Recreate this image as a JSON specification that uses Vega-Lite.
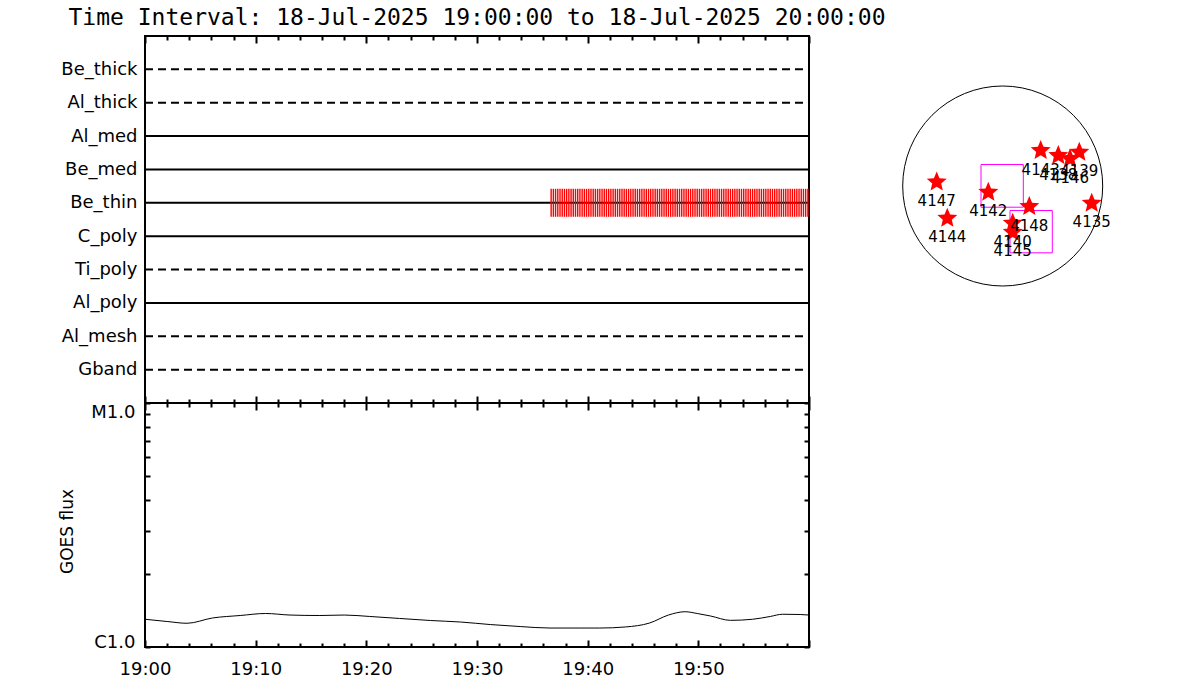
{
  "$schema": "https://vega.github.io/schema/vega-lite/v6.json",
  "background": "white",
  "padding": {"left": 56, "top": 6, "right": 5, "bottom": 5},
  "config": {
    "view": {"stroke": "black", "strokeWidth": 2},
    "font": "DejaVu Sans",
    "axis": {"labelColor": "black", "tickColor": "black", "domainColor": "black", "titleColor": "black", "labelFont": "DejaVu Sans", "titleFont": "DejaVu Sans", "titleFontWeight": "normal", "grid": false, "domain": false, "labelFontSize": 18, "tickWidth": 2}
  },
  "datasets": {
    "regions": [
      {"noaa": "4147", "x": -0.66, "y": 0.04},
      {"noaa": "4144", "x": -0.554, "y": -0.322},
      {"noaa": "4142", "x": -0.144, "y": -0.062},
      {"noaa": "4148", "x": 0.266, "y": -0.205},
      {"noaa": "4140", "x": 0.10, "y": -0.372},
      {"noaa": "4145", "x": 0.10, "y": -0.462},
      {"noaa": "4135", "x": 0.89, "y": -0.172},
      {"noaa": "4143", "x": 0.38, "y": 0.355},
      {"noaa": "4138", "x": 0.556, "y": 0.305},
      {"noaa": "4146", "x": 0.673, "y": 0.272},
      {"noaa": "4139", "x": 0.766, "y": 0.338}
    ],
    "goes": [
      {"t": 0, "flux": 1.299e-6}, {"t": 2, "flux": 1.272e-6}, {"t": 3.8, "flux": 1.251e-6},
      {"t": 6.1, "flux": 1.315e-6}, {"t": 8.6, "flux": 1.346e-6}, {"t": 10.9, "flux": 1.372e-6}, {"t": 13.1, "flux": 1.352e-6},
      {"t": 15.8, "flux": 1.346e-6}, {"t": 18, "flux": 1.352e-6}, {"t": 20.3, "flux": 1.334e-6}, {"t": 23, "flux": 1.309e-6},
      {"t": 25.8, "flux": 1.284e-6}, {"t": 28.5, "flux": 1.266e-6}, {"t": 31.2, "flux": 1.236e-6}, {"t": 33.9, "flux": 1.213e-6},
      {"t": 36.6, "flux": 1.196e-6}, {"t": 39.3, "flux": 1.196e-6}, {"t": 41.1, "flux": 1.196e-6}, {"t": 43.4, "flux": 1.208e-6},
      {"t": 45.6, "flux": 1.254e-6}, {"t": 47.3, "flux": 1.352e-6}, {"t": 48.8, "flux": 1.395e-6}, {"t": 49.9, "flux": 1.372e-6},
      {"t": 51.1, "flux": 1.340e-6}, {"t": 52.9, "flux": 1.286e-6}, {"t": 54.9, "flux": 1.299e-6}, {"t": 56.5, "flux": 1.334e-6},
      {"t": 57.6, "flux": 1.362e-6}, {"t": 59.2, "flux": 1.359e-6}, {"t": 60, "flux": 1.352e-6}
    ]
  },
  "spacing": 0,
  "hconcat": [
    {
      "spacing": 0,
      "bounds": "flush",
      "vconcat": [
        {
          "width": 664,
          "height": 367,
          "title": {"text": "Time Interval: 18-Jul-2025 19:00:00 to 18-Jul-2025 20:00:00", "font": "DejaVu Sans Mono", "fontSize": 23, "fontWeight": "normal", "color": "black", "anchor": "middle", "baseline": "alphabetic", "offset": -13},
          "layer": [
            {
              "data": {"values": [
                {"filter": "Be_thick", "style": "dashed", "start": 0, "end": 60},
                {"filter": "Al_thick", "style": "dashed", "start": 0, "end": 60},
                {"filter": "Al_med", "style": "solid", "start": 0, "end": 60},
                {"filter": "Be_med", "style": "solid", "start": 0, "end": 60},
                {"filter": "Be_thin", "style": "solid", "start": 0, "end": 60},
                {"filter": "C_poly", "style": "solid", "start": 0, "end": 60},
                {"filter": "Ti_poly", "style": "dashed", "start": 0, "end": 60},
                {"filter": "Al_poly", "style": "solid", "start": 0, "end": 60},
                {"filter": "Al_mesh", "style": "dashed", "start": 0, "end": 60},
                {"filter": "Gband", "style": "dashed", "start": 0, "end": 60}
              ]},
              "mark": {"type": "rule", "strokeWidth": 2, "color": "black"},
              "encoding": {
                "x": {"field": "start", "type": "quantitative", "scale": {"domain": [0, 60], "nice": false, "zero": false},
                  "axis": {"orient": "top", "values": [0,2,4,6,8,10,12,14,16,18,20,22,24,26,28,30,32,34,36,38,40,42,44,46,48,50,52,54,56,58,60], "labels": false, "title": null,
                    "tickSize": {"condition": {"test": "datum.value % 10 === 0", "value": -7}, "value": -4}}},
                "x2": {"field": "end"},
                "y": {"field": "filter", "type": "nominal", "sort": ["Be_thick","Al_thick","Al_med","Be_med","Be_thin","C_poly","Ti_poly","Al_poly","Al_mesh","Gband"],
                  "scale": {"type": "point", "padding": 1},
                  "axis": {"orient": "left", "ticks": false, "labelPadding": 8, "title": null}},
                "strokeDash": {"field": "style", "type": "nominal", "scale": {"domain": ["solid", "dashed"], "range": [[1, 0], [8, 5]]}, "legend": null}
              }
            },
            {
              "data": {"values": [
                {"t":36.7},{"t":36.9},{"t":37.1},{"t":37.3},{"t":37.5},{"t":37.7},{"t":37.9},{"t":38.1},{"t":38.3},{"t":38.5},{"t":38.7},{"t":38.9},
                {"t":39.1},{"t":39.3},{"t":39.5},{"t":39.7},{"t":39.9},{"t":40.1},{"t":40.3},{"t":40.5},{"t":40.7},{"t":40.9},
                {"t":41.1},{"t":41.3},{"t":41.5},{"t":41.7},{"t":41.9},{"t":42.1},{"t":42.3},{"t":42.5},{"t":42.7},{"t":42.9},
                {"t":43.1},{"t":43.3},{"t":43.5},{"t":43.7},{"t":43.9},{"t":44.1},{"t":44.3},{"t":44.5},{"t":44.7},{"t":44.9},
                {"t":45.1},{"t":45.3},{"t":45.5},{"t":45.7},{"t":45.9},{"t":46.1},{"t":46.3},{"t":46.5},{"t":46.7},{"t":46.9},
                {"t":47.1},{"t":47.3},{"t":47.5},{"t":47.7},{"t":47.9},{"t":48.1},{"t":48.3},{"t":48.5},{"t":48.7},{"t":48.9},
                {"t":49.1},{"t":49.3},{"t":49.5},{"t":49.7},{"t":49.9},{"t":50.1},{"t":50.3},{"t":50.5},{"t":50.7},{"t":50.9},
                {"t":51.1},{"t":51.3},{"t":51.5},{"t":51.7},{"t":51.9},{"t":52.1},{"t":52.3},{"t":52.5},{"t":52.7},{"t":52.9},
                {"t":53.1},{"t":53.3},{"t":53.5},{"t":53.7},{"t":53.9},{"t":54.1},{"t":54.3},{"t":54.5},{"t":54.7},{"t":54.9},
                {"t":55.1},{"t":55.3},{"t":55.5},{"t":55.7},{"t":55.9},{"t":56.1},{"t":56.3},{"t":56.5},{"t":56.7},{"t":56.9},
                {"t":57.1},{"t":57.3},{"t":57.5},{"t":57.7},{"t":57.9},{"t":58.1},{"t":58.3},{"t":58.5},{"t":58.7},{"t":58.9},
                {"t":59.1},{"t":59.3},{"t":59.5},{"t":59.7},{"t":59.9}
              ]},
              "mark": {"type": "tick", "color": "red", "thickness": 1.4, "size": 28, "opacity": 1},
              "encoding": {
                "x": {"field": "t", "type": "quantitative", "scale": {"domain": [0, 60], "nice": false, "zero": false},
                  "axis": {"orient": "bottom", "values": [0,2,4,6,8,10,12,14,16,18,20,22,24,26,28,30,32,34,36,38,40,42,44,46,48,50,52,54,56,58,60], "labels": false, "title": null,
                    "tickSize": {"condition": {"test": "datum.value % 10 === 0", "value": -7}, "value": -4}}},
                "y": {"datum": "Be_thin", "type": "nominal"}
              }
            }
          ],
          "resolve": {"axis": {"x": "independent"}}
        },
        {
          "width": 664,
          "height": 244,
          "data": {"name": "goes"},
          "layer": [
            {
              "mark": {"type": "line", "color": "black", "strokeWidth": 1, "interpolate": "monotone"},
              "encoding": {
                "x": {"field": "t", "type": "quantitative", "scale": {"domain": [0, 60], "nice": false, "zero": false},
                  "axis": {"orient": "bottom", "values": [0,2,4,6,8,10,12,14,16,18,20,22,24,26,28,30,32,34,36,38,40,42,44,46,48,50,52,54,56,58,60],
                    "labelExpr": "datum.value % 10 === 0 && datum.value < 60 ? '19:' + (datum.value === 0 ? '00' : datum.value) : ''",
                    "labelFlush": false, "title": null, "labelPadding": 20,
                    "tickSize": {"condition": {"test": "datum.value % 10 === 0", "value": -7}, "value": -4}}},
                "y": {"field": "flux", "type": "quantitative", "scale": {"type": "log", "domain": [1e-6, 1e-5], "nice": false},
                  "axis": {"orient": "left", "values": [1e-6,2e-6,3e-6,4e-6,5e-6,6e-6,7e-6,8e-6,9e-6,1e-5],
                    "labelExpr": "datum.value < 1.5e-6 ? 'C1.0' : (datum.value > 9.5e-6 ? 'M1.0' : '')",
                    "labelFlush": false,
                    "labelBaseline": {"condition": {"test": "datum.value < 1.5e-6", "value": "alphabetic"}, "value": "top"},
                    "tickSize": -5, "labelPadding": 15,
                    "title": "GOES flux", "titleFontSize": 17, "titleX": -78, "titleY": 128, "titleAngle": -90, "titleAlign": "center", "titleBaseline": "middle"}}
              }
            },
            {
              "mark": {"type": "line", "color": "black", "strokeWidth": 1, "interpolate": "monotone", "opacity": 0},
              "encoding": {
                "x": {"field": "t", "type": "quantitative", "scale": {"domain": [0, 60], "nice": false, "zero": false},
                  "axis": {"orient": "top", "values": [0,2,4,6,8,10,12,14,16,18,20,22,24,26,28,30,32,34,36,38,40,42,44,46,48,50,52,54,56,58,60], "labels": false, "title": null,
                    "tickSize": {"condition": {"test": "datum.value % 10 === 0", "value": -7}, "value": -4}}},
                "y": {"field": "flux", "type": "quantitative", "scale": {"type": "log", "domain": [1e-6, 1e-5], "nice": false},
                  "axis": {"orient": "right", "values": [1e-6,2e-6,3e-6,4e-6,5e-6,6e-6,7e-6,8e-6,9e-6,1e-5], "labels": false, "title": null, "tickSize": -5}}
              }
            }
          ],
          "resolve": {"axis": {"x": "independent", "y": "independent"}}
        }
      ]
    },
    {
      "width": 240,
      "height": 300,
      "view": {"stroke": null},
      "layer": [
        {
          "data": {"values": [{"x": 0, "y": 0}]},
          "mark": {"type": "point", "shape": "circle", "size": 40000, "filled": false, "color": "black", "strokeWidth": 1, "opacity": 1},
          "encoding": {
            "x": {"field": "x", "type": "quantitative", "scale": {"domain": [-1.157, 1.243], "nice": false, "zero": false}, "axis": null},
            "y": {"field": "y", "type": "quantitative", "scale": {"domain": [-1.5, 1.5], "nice": false, "zero": false}, "axis": null}
          }
        },
        {
          "data": {"values": [
            {"x1": -0.217, "x2": 0.206, "y1": 0.215, "y2": -0.212},
            {"x1": 0.073, "x2": 0.496, "y1": -0.245, "y2": -0.668}
          ]},
          "mark": {"type": "rect", "filled": false, "color": "#ff00ff", "strokeWidth": 1},
          "encoding": {
            "x": {"field": "x1", "type": "quantitative"},
            "x2": {"field": "x2"},
            "y": {"field": "y1", "type": "quantitative"},
            "y2": {"field": "y2"}
          }
        },
        {
          "data": {"name": "regions"},
          "mark": {"type": "point", "shape": "M0,-1L0.2645,-0.364L0.951,-0.309L0.428,0.139L0.588,0.809L0,0.45L-0.588,0.809L-0.428,0.139L-0.951,-0.309L-0.2645,-0.364Z", "size": 440, "filled": true, "color": "red", "opacity": 1, "strokeWidth": 0},
          "encoding": {
            "x": {"field": "x", "type": "quantitative"},
            "y": {"field": "y", "type": "quantitative"}
          }
        },
        {
          "data": {"name": "regions"},
          "mark": {"type": "text", "dy": 19, "fontSize": 15, "color": "black", "font": "DejaVu Sans"},
          "encoding": {
            "x": {"field": "x", "type": "quantitative"},
            "y": {"field": "y", "type": "quantitative"},
            "text": {"field": "noaa"}
          }
        }
      ]
    }
  ]
}
